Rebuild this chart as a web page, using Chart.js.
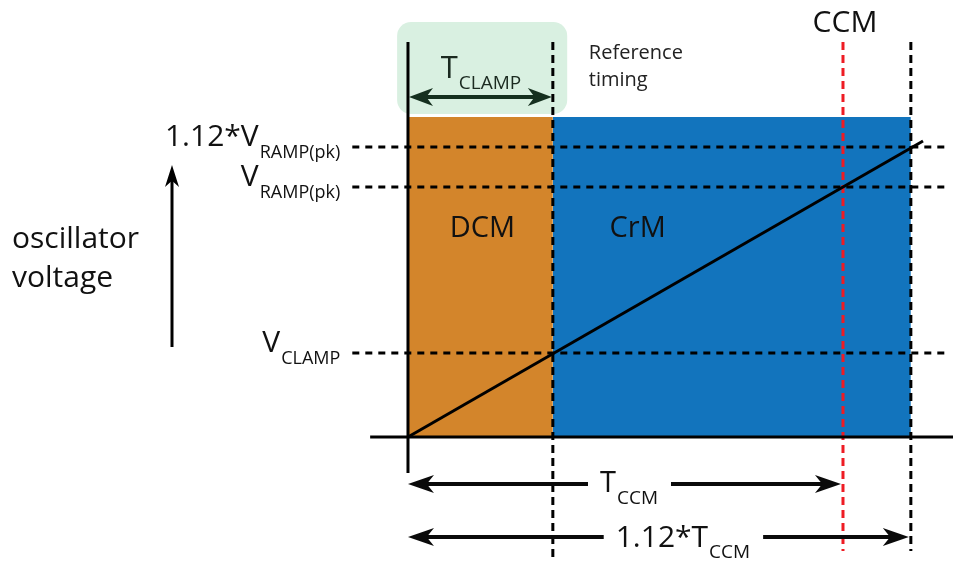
<!DOCTYPE html>
<html>
<head>
<meta charset="utf-8">
<script src="https://cdn.jsdelivr.net/npm/chart.js@4.4.1/dist/chart.umd.min.js"></script>
<style>
  html, body { margin: 0; padding: 0; background: #fff; }
  #wrap { width: 953px; height: 565px; }
</style>
</head>
<body>
<div id="wrap"><canvas id="osc" width="953" height="565"></canvas></div>
<script>
// time marks (arbitrary units): origin, T_CLAMP, T_CCM, 1.12*T_CCM
const timeNames = ['0', 'T_CLAMP', 'T_CCM', '1.12*T_CCM'];
const timeValues = [0, 3.33, 10, 11.56];
// voltage levels: V_CLAMP, V_RAMP(pk), 1.12*V_RAMP(pk)
const levelNames = ['V_CLAMP', 'V_RAMP(pk)', '1.12*V_RAMP(pk)'];
const levelValues = [1.68, 5.0, 5.8];
// oscillator ramp
const rampT = [0, 11.84];
const rampV = [0, 5.92];
// operating mode regions
const modeNames = ['DCM', 'CrM'];
const modeColors = ['#d3852b', '#1274bd'];
const modeTop = 6.4;

const FONT = '"Open Sans", "DejaVu Sans", sans-serif';

// helpers
const seg = (x1, y1, x2, y2) => [{ x: x1, y: y1 }, { x: x2, y: y2 }];

function lineSet(data, color, width, dash, order) {
    return {
        data: data,
        showLine: true,
        borderColor: color,
        borderWidth: width,
        borderDash: dash || [],
        pointRadius: 0,
        fill: false,
        tension: 0,
        order: order
    };
}

const tClamp = timeValues[1], tCcm = timeValues[2], tEnd = timeValues[3];

const datasets = [];
// ramp on top
datasets.push(lineSet(rampT.map((t, i) => ({ x: t, y: rampV[i] })), '#000', 3, null, 0));
// axes
datasets.push(lineSet(seg(0, 7.9, 0, -0.72), '#000', 3, null, 1));
datasets.push(lineSet(seg(-0.87, 0, 12.6, 0), '#000', 3, null, 1));
// horizontal dashed levels
levelValues.forEach(v => datasets.push(lineSet(seg(-1.28, v, 12.46, v), '#000', 3, [7, 6], 2)));
// vertical dashed marks
datasets.push(lineSet(seg(tClamp, 7.9, tClamp, -2.46), '#000', 3, [8, 5], 2));
datasets.push(lineSet(seg(tCcm, 7.9, tCcm, -2.28), '#ee1c24', 3, [8, 5], 2));
datasets.push(lineSet(seg(tEnd, 7.9, tEnd, -2.28), '#000', 3, [8, 5], 2));
// mode regions
[[0, tClamp], [tClamp, tEnd]].forEach((r, i) => {
    datasets.push({
        data: seg(r[0], modeTop, r[1], modeTop),
        showLine: true,
        borderWidth: 0,
        borderColor: 'rgba(0,0,0,0)',
        backgroundColor: modeColors[i],
        pointRadius: 0,
        fill: 'origin',
        order: 5
    });
});

function arrowHead(ctx, x, y, dx, dy, len, half) {
    // (dx,dy) unit direction of the pointing
    const px = -dy, py = dx;
    ctx.beginPath();
    ctx.moveTo(x, y);
    ctx.lineTo(x - dx * len + px * half, y - dy * len + py * half);
    ctx.lineTo(x - dx * len * 0.72, y - dy * len * 0.72);
    ctx.lineTo(x - dx * len - px * half, y - dy * len - py * half);
    ctx.closePath();
    ctx.fill();
}

function subLabel(ctx, main, sub, x, y, mainSize, subSize, drop, align) {
    ctx.font = mainSize + 'px ' + FONT;
    const wm = ctx.measureText(main).width;
    ctx.font = subSize + 'px ' + FONT;
    const ws = ctx.measureText(sub).width;
    let left = x;
    if (align === 'right') left = x - wm - ws;
    if (align === 'center') left = x - (wm + ws) / 2;
    ctx.textAlign = 'left';
    ctx.font = mainSize + 'px ' + FONT;
    ctx.fillText(main, left, y);
    ctx.font = subSize + 'px ' + FONT;
    ctx.fillText(sub, left + wm + 1, y + drop);
    return { left: left, right: left + wm + ws };
}

const decor = {
    id: 'decor',
    beforeDatasetsDraw(chart) {
        const ctx = chart.ctx, X = chart.scales.x, Y = chart.scales.y;
        // highlighted reference timing box
        const x1 = X.getPixelForValue(-0.25), x2 = X.getPixelForValue(tClamp + 0.33);
        const y1 = Y.getPixelForValue(8.3), y2 = Y.getPixelForValue(modeTop + 0.06);
        ctx.save();
        ctx.fillStyle = '#d9f0e1';
        ctx.beginPath();
        ctx.roundRect(x1, y1, x2 - x1, y2 - y1, 14);
        ctx.fill();
        ctx.restore();
    },
    afterDatasetsDraw(chart) {
        const ctx = chart.ctx, X = chart.scales.x, Y = chart.scales.y;
        const x0 = X.getPixelForValue(0);
        ctx.save();
        ctx.textBaseline = 'alphabetic';

        // T_CLAMP arrow (dark green)
        const ya = Y.getPixelForValue(6.8);
        const xc = X.getPixelForValue(tClamp);
        ctx.strokeStyle = '#15301f';
        ctx.fillStyle = '#15301f';
        ctx.lineWidth = 4;
        ctx.beginPath();
        ctx.moveTo(x0 + 10, ya);
        ctx.lineTo(xc - 10, ya);
        ctx.stroke();
        arrowHead(ctx, x0 + 1, ya, -1, 0, 24, 9);
        arrowHead(ctx, xc - 1, ya, 1, 0, 24, 9);
        ctx.fillStyle = '#1b2a20';
        subLabel(ctx, 'T', 'CLAMP', (x0 + xc) / 2, ya - 19, 31, 19, 11, 'center');

        // bottom arrows
        ctx.strokeStyle = '#0a0a0a';
        ctx.fillStyle = '#0a0a0a';
        const bottom = [
            { t: tCcm, v: -0.94, main: 'T', sub: 'CCM', ms: 29, ss: 19, shift: 4, base: 8, drop: 12 },
            { t: tEnd, v: -2.0, main: '1.12*T', sub: 'CCM', ms: 30, ss: 19, shift: 24, base: 10, drop: 11 }
        ];
        bottom.forEach(b => {
            const y = Y.getPixelForValue(b.v);
            const xe = X.getPixelForValue(b.t) - 2;
            const mid = (x0 + xe) / 2 + b.shift;
            ctx.fillStyle = '#111';
            const box = subLabel(ctx, b.main, b.sub, mid, y + b.base, b.ms, b.ss, b.drop, 'center');
            ctx.fillStyle = '#0a0a0a';
            ctx.lineWidth = 4;
            ctx.beginPath();
            ctx.moveTo(x0 + 10, y);
            ctx.lineTo(box.left - 12, y);
            ctx.moveTo(box.right + 14, y);
            ctx.lineTo(xe - 10, y);
            ctx.stroke();
            arrowHead(ctx, x0, y, -1, 0, 26, 9);
            arrowHead(ctx, xe, y, 1, 0, 26, 9);
        });

        // level labels on the left
        ctx.fillStyle = '#111';
        const labelRight = X.getPixelForValue(-1.28) - 13;
        const levelText = [['V', 'CLAMP'], ['V', 'RAMP(pk)'], ['1.12*V', 'RAMP(pk)']];
        levelValues.forEach((v, i) => {
            const y = Y.getPixelForValue(v);
            subLabel(ctx, levelText[i][0], levelText[i][1], labelRight, y - 1, 30, 18, 12, 'right');
        });

        // mode names
        ctx.textAlign = 'center';
        ctx.font = '29px ' + FONT;
        const modeY = Y.getPixelForValue(4.0);
        ctx.fillText(modeNames[0], X.getPixelForValue(tClamp / 2) + 2, modeY);
        ctx.fillText(modeNames[1], X.getPixelForValue(5.28), modeY);

        // CCM marker title
        ctx.font = '30px ' + FONT;
        ctx.fillText('CCM', X.getPixelForValue(tCcm) + 2, 32);

        // reference timing note
        ctx.textAlign = 'left';
        ctx.font = '20px ' + FONT;
        ctx.fillStyle = '#222';
        ctx.fillText('Reference', xc + 36, 59);
        ctx.fillText('timing', xc + 36, 86);

        // y axis description with arrow
        ctx.fillStyle = '#111';
        ctx.font = '30px ' + FONT;
        ctx.fillText('oscillator', 12, 248);
        ctx.fillText('voltage', 12, 287);
        const ax = X.getPixelForValue(-5.425);
        const yTop = Y.getPixelForValue(5.44), yBot = Y.getPixelForValue(1.8);
        ctx.strokeStyle = '#000';
        ctx.fillStyle = '#000';
        ctx.lineWidth = 3;
        ctx.beginPath();
        ctx.moveTo(ax, yBot);
        ctx.lineTo(ax, yTop + 12);
        ctx.stroke();
        arrowHead(ctx, ax, yTop, 0, -1, 22, 7);

        ctx.restore();
    }
};

new Chart(document.getElementById('osc'), {
    type: 'scatter',
    data: { datasets: datasets },
    options: {
        responsive: false,
        devicePixelRatio: 1,
        animation: false,
        layout: { padding: 0 },
        scales: {
            x: { type: 'linear', display: false, min: -9.379, max: 12.529 },
            y: { type: 'linear', display: false, min: -2.56, max: 8.74 }
        },
        plugins: {
            legend: { display: false },
            tooltip: { enabled: false },
            filler: { propagate: false }
        }
    },
    plugins: [decor]
});
</script>
</body>
</html>
